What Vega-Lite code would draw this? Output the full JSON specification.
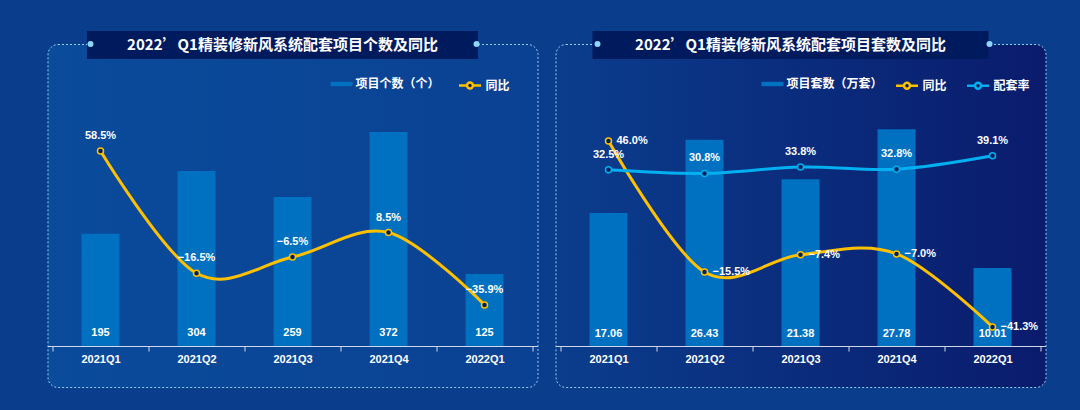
{
  "$schema": "https://vega.github.io/schema/vega-lite/v6.json",
  "background": "#0b3d8d",
  "padding": {"left": 46.5, "top": 30, "right": 37, "bottom": 24},
  "autosize": {"type": "pad"},
  "spacing": 16,
  "config": {"font": "Noto Sans CJK SC"},
  "resolve": {"scale": {"fill": "independent", "stroke": "independent", "x": "independent", "y": "independent"}, "legend": {"fill": "independent", "stroke": "independent"}},
  "hconcat": [
    {
      "width": 490,
      "height": 343,
      "view": {"stroke": "#8fd0f0", "strokeWidth": 1, "strokeDash": [2, 2], "cornerRadius": 10,
        "fill": {"gradient": "linear", "x1": 0, "y1": 0, "x2": 1, "y2": 0, "stops": [{"offset": 0, "color": "#0a4b9b"}, {"offset": 1, "color": "#0b4192"}]}},
      "data": {"values": [
        {"q": "2021Q1", "n": 195, "yoy": 0.585},
        {"q": "2021Q2", "n": 304, "yoy": -0.165},
        {"q": "2021Q3", "n": 259, "yoy": -0.065},
        {"q": "2021Q4", "n": 372, "yoy": 0.085},
        {"q": "2022Q1", "n": 125, "yoy": -0.359}
      ]},
      "encoding": {
        "x": {"field": "q", "type": "ordinal", "sort": null,
          "scale": {"type": "band", "paddingInner": 0, "paddingOuter": 0.052},
          "axis": {"title": null, "offset": -41, "domainColor": "#d0d8e8", "tickColor": "#d0d8e8", "tickBand": "extent", "tickSize": 5, "labelColor": "white", "labelFont": "Liberation Sans", "labelFontWeight": "bold", "labelFontSize": 11, "labelPadding": 2, "labelAngle": 0, "grid": false}}
      },
      "layer": [
        {
          "mark": {"type": "bar", "width": 38},
          "encoding": {
            "y": {"field": "n", "type": "quantitative", "stack": null, "scale": {"domain": [-71.3, 525], "nice": false, "zero": false}, "axis": null},
            "fill": {"datum": "项目个数（个）", "type": "nominal",
              "scale": {"domain": ["项目个数（个）"], "range": ["#0070C0"]},
              "legend": {"orient": "none", "legendX": 283, "legendY": 29, "direction": "horizontal", "title": null,
                "labelColor": "white", "labelFont": "Noto Sans CJK SC", "labelFontWeight": "bold", "labelFontSize": 12, "labelOffset": 3,
                "symbolType": "M-1,-0.2H1V0.2H-1Z", "symbolSize": 484, "symbolStrokeWidth": 0, "symbolOpacity": 1}
            }
          }
        },
        {
          "mark": {"type": "text", "color": "white", "font": "Liberation Sans", "fontWeight": "bold", "fontSize": 11, "baseline": "middle", "dy": -13},
          "encoding": {
            "y": {"datum": 0, "type": "quantitative", "scale": {"domain": [-71.3, 525], "nice": false, "zero": false}, "axis": null},
            "text": {"field": "n", "type": "quantitative", "format": "d"}
          }
        },
        {
          "mark": {"type": "line", "interpolate": "cardinal", "strokeWidth": 3},
          "encoding": {
            "y": {"field": "yoy", "type": "quantitative", "scale": {"domain": [-0.8626, 1.2417], "nice": false, "zero": false}, "axis": null},
            "stroke": {"datum": "同比", "type": "nominal",
              "scale": {"domain": ["同比"], "range": ["#FFC000"]},
              "legend": {"orient": "none", "legendX": 410, "legendY": 29, "direction": "horizontal", "title": null,
                "labelColor": "white", "labelFont": "Noto Sans CJK SC", "labelFontWeight": "bold", "labelFontSize": 12, "labelOffset": 3,
                "symbolType": "M-1,0H-0.27M0.27,0H1M0.27,0A0.27,0.27,0,1,1,-0.27,0A0.27,0.27,0,1,1,0.27,0", "symbolSize": 484, "symbolStrokeWidth": 2.5, "symbolFillColor": "#002060", "symbolOpacity": 1}
            }
          }
        },
        {
          "mark": {"type": "point", "filled": true, "fill": "#002060", "stroke": "#FFC000", "strokeWidth": 1.5, "size": 36, "opacity": 1},
          "encoding": {
            "y": {"field": "yoy", "type": "quantitative", "scale": {"domain": [-0.8626, 1.2417], "nice": false, "zero": false}, "axis": null}
          }
        },
        {
          "mark": {"type": "text", "color": "white", "font": "Liberation Sans", "fontWeight": "bold", "fontSize": 11, "baseline": "middle", "dy": -15},
          "encoding": {
            "y": {"field": "yoy", "type": "quantitative", "scale": {"domain": [-0.8626, 1.2417], "nice": false, "zero": false}, "axis": null},
            "text": {"field": "yoy", "type": "quantitative", "format": ".1%"}
          }
        },
        {
          "data": {"values": [{}]},
          "mark": {"type": "point", "shape": "M-1,-0.0716H1V0.0716H-1Z", "size": 152881, "filled": true, "fill": "#001a5e", "opacity": 1, "strokeWidth": 0, "xOffset": -10, "yOffset": 1},
          "encoding": {
            "x": {"datum": "2021Q3", "type": "ordinal"},
            "y": {"datum": 525, "type": "quantitative", "scale": {"domain": [-71.3, 525], "nice": false, "zero": false}, "axis": null}
          }
        },
        {
          "data": {"values": [{}]},
          "mark": {"type": "point", "filled": true, "fill": "#8fd6f5", "opacity": 1, "size": 36, "xOffset": -10},
          "encoding": {
            "x": {"datum": "2021Q1", "type": "ordinal"},
            "y": {"datum": 525, "type": "quantitative", "scale": {"domain": [-71.3, 525], "nice": false, "zero": false}, "axis": null}
          }
        },
        {
          "data": {"values": [{}]},
          "mark": {"type": "point", "filled": true, "fill": "#8fd6f5", "opacity": 1, "size": 36, "xOffset": -8},
          "encoding": {
            "x": {"datum": "2022Q1", "type": "ordinal"},
            "y": {"datum": 525, "type": "quantitative", "scale": {"domain": [-71.3, 525], "nice": false, "zero": false}, "axis": null}
          }
        },
        {
          "data": {"values": [{}]},
          "mark": {"type": "text", "text": "2022’Q1精装修新风系统配套项目个数及同比", "font": "Noto Sans CJK SC", "fontWeight": "bold", "fontSize": 15, "color": "white", "align": "center", "baseline": "middle", "xOffset": -10, "yOffset": 1},
          "encoding": {
            "x": {"datum": "2021Q3", "type": "ordinal"},
            "y": {"datum": 525, "type": "quantitative", "scale": {"domain": [-71.3, 525], "nice": false, "zero": false}, "axis": null}
          }
        }
      ],
      "resolve": {"scale": {"y": "independent"}}
    },
    {
      "width": 490,
      "height": 343,
      "view": {"stroke": "#8fd0f0", "strokeWidth": 1, "strokeDash": [2, 2], "cornerRadius": 10,
        "fill": {"gradient": "linear", "x1": 0, "y1": 0, "x2": 1, "y2": 0, "stops": [{"offset": 0, "color": "#0b3d8d"}, {"offset": 1, "color": "#0a1b6c"}]}},
      "data": {"values": [
        {"q": "2021Q1", "n": 17.06, "yoy": 0.46, "rate": 0.325},
        {"q": "2021Q2", "n": 26.43, "yoy": -0.155, "rate": 0.308},
        {"q": "2021Q3", "n": 21.38, "yoy": -0.074, "rate": 0.338},
        {"q": "2021Q4", "n": 27.78, "yoy": -0.07, "rate": 0.328},
        {"q": "2022Q1", "n": 10.01, "yoy": -0.413, "rate": 0.391}
      ]},
      "encoding": {
        "x": {"field": "q", "type": "ordinal", "sort": null,
          "scale": {"type": "band", "paddingInner": 0, "paddingOuter": 0.052},
          "axis": {"title": null, "offset": -41, "domainColor": "#d0d8e8", "tickColor": "#d0d8e8", "tickBand": "extent", "tickSize": 5, "labelColor": "white", "labelFont": "Liberation Sans", "labelFontWeight": "bold", "labelFontSize": 11, "labelPadding": 2, "labelAngle": 0, "grid": false}}
      },
      "layer": [
        {
          "mark": {"type": "bar", "width": 38},
          "encoding": {
            "y": {"field": "n", "type": "quantitative", "stack": null, "scale": {"domain": [-5.26, 38.72], "nice": false, "zero": false}, "axis": null},
            "fill": {"datum": "项目套数（万套）", "type": "nominal",
              "scale": {"domain": ["项目套数（万套）"], "range": ["#0070C0"]},
              "legend": {"orient": "none", "legendX": 206, "legendY": 29, "direction": "horizontal", "title": null,
                "labelColor": "white", "labelFont": "Noto Sans CJK SC", "labelFontWeight": "bold", "labelFontSize": 12, "labelOffset": 3,
                "symbolType": "M-1,-0.2H1V0.2H-1Z", "symbolSize": 484, "symbolStrokeWidth": 0, "symbolOpacity": 1}
            }
          }
        },
        {
          "mark": {"type": "text", "color": "white", "font": "Liberation Sans", "fontWeight": "bold", "fontSize": 11, "baseline": "middle", "dy": -12},
          "encoding": {
            "y": {"datum": 0, "type": "quantitative", "scale": {"domain": [-5.26, 38.72], "nice": false, "zero": false}, "axis": null},
            "text": {"field": "n", "type": "quantitative", "format": ".2f"}
          }
        },
        {
          "mark": {"type": "line", "interpolate": "cardinal", "strokeWidth": 3},
          "encoding": {
            "y": {"field": "yoy", "type": "quantitative", "scale": {"domain": [-0.6948, 0.9155], "nice": false, "zero": false}, "axis": null},
            "stroke": {"datum": "同比", "type": "nominal",
              "scale": {"domain": ["同比", "配套率"], "range": ["#FFC000", "#00B0F0"]},
              "legend": {"orient": "none", "legendX": 339, "legendY": 29, "direction": "horizontal", "title": null,
                "labelColor": "white", "labelFont": "Noto Sans CJK SC", "labelFontWeight": "bold", "labelFontSize": 12, "labelOffset": 3, "columnPadding": 14,
                "symbolType": "M-1,0H-0.27M0.27,0H1M0.27,0A0.27,0.27,0,1,1,-0.27,0A0.27,0.27,0,1,1,0.27,0", "symbolSize": 484, "symbolStrokeWidth": 2.5, "symbolFillColor": "#002060", "symbolOpacity": 1}
            }
          }
        },
        {
          "mark": {"type": "point", "filled": true, "fill": "#002060", "stroke": "#FFC000", "strokeWidth": 1.5, "size": 36, "opacity": 1},
          "encoding": {
            "y": {"field": "yoy", "type": "quantitative", "scale": {"domain": [-0.6948, 0.9155], "nice": false, "zero": false}, "axis": null}
          }
        },
        {
          "mark": {"type": "line", "interpolate": "cardinal", "strokeWidth": 3},
          "encoding": {
            "y": {"field": "rate", "type": "quantitative", "scale": {"domain": [-0.6948, 0.9155], "nice": false, "zero": false}, "axis": null},
            "stroke": {"datum": "配套率", "type": "nominal"}
          }
        },
        {
          "mark": {"type": "point", "filled": true, "fill": "#002060", "stroke": "#00B0F0", "strokeWidth": 1.5, "size": 36, "opacity": 1},
          "encoding": {
            "y": {"field": "rate", "type": "quantitative", "scale": {"domain": [-0.6948, 0.9155], "nice": false, "zero": false}, "axis": null}
          }
        },
        {
          "mark": {"type": "text", "color": "white", "font": "Liberation Sans", "fontWeight": "bold", "fontSize": 11, "baseline": "middle", "align": "left", "dx": 8},
          "encoding": {
            "y": {"field": "yoy", "type": "quantitative", "scale": {"domain": [-0.6948, 0.9155], "nice": false, "zero": false}, "axis": null},
            "text": {"field": "yoy", "type": "quantitative", "format": ".1%"}
          }
        },
        {
          "mark": {"type": "text", "color": "white", "font": "Liberation Sans", "fontWeight": "bold", "fontSize": 11, "baseline": "middle", "dy": -15},
          "encoding": {
            "y": {"field": "rate", "type": "quantitative", "scale": {"domain": [-0.6948, 0.9155], "nice": false, "zero": false}, "axis": null},
            "text": {"field": "rate", "type": "quantitative", "format": ".1%"}
          }
        },
        {
          "data": {"values": [{}]},
          "mark": {"type": "point", "shape": "M-1,-0.0707H1V0.0707H-1Z", "size": 156816, "filled": true, "fill": "#001a5e", "opacity": 1, "strokeWidth": 0, "xOffset": -10, "yOffset": 1},
          "encoding": {
            "x": {"datum": "2021Q3", "type": "ordinal"},
            "y": {"datum": 38.72, "type": "quantitative", "scale": {"domain": [-5.26, 38.72], "nice": false, "zero": false}, "axis": null}
          }
        },
        {
          "data": {"values": [{}]},
          "mark": {"type": "point", "filled": true, "fill": "#8fd6f5", "opacity": 1, "size": 36, "xOffset": -11},
          "encoding": {
            "x": {"datum": "2021Q1", "type": "ordinal"},
            "y": {"datum": 38.72, "type": "quantitative", "scale": {"domain": [-5.26, 38.72], "nice": false, "zero": false}, "axis": null}
          }
        },
        {
          "data": {"values": [{}]},
          "mark": {"type": "point", "filled": true, "fill": "#8fd6f5", "opacity": 1, "size": 36, "xOffset": -3},
          "encoding": {
            "x": {"datum": "2022Q1", "type": "ordinal"},
            "y": {"datum": 38.72, "type": "quantitative", "scale": {"domain": [-5.26, 38.72], "nice": false, "zero": false}, "axis": null}
          }
        },
        {
          "data": {"values": [{}]},
          "mark": {"type": "text", "text": "2022’Q1精装修新风系统配套项目套数及同比", "font": "Noto Sans CJK SC", "fontWeight": "bold", "fontSize": 15, "color": "white", "align": "center", "baseline": "middle", "xOffset": -10, "yOffset": 1},
          "encoding": {
            "x": {"datum": "2021Q3", "type": "ordinal"},
            "y": {"datum": 38.72, "type": "quantitative", "scale": {"domain": [-5.26, 38.72], "nice": false, "zero": false}, "axis": null}
          }
        }
      ],
      "resolve": {"scale": {"y": "independent"}}
    }
  ]
}
